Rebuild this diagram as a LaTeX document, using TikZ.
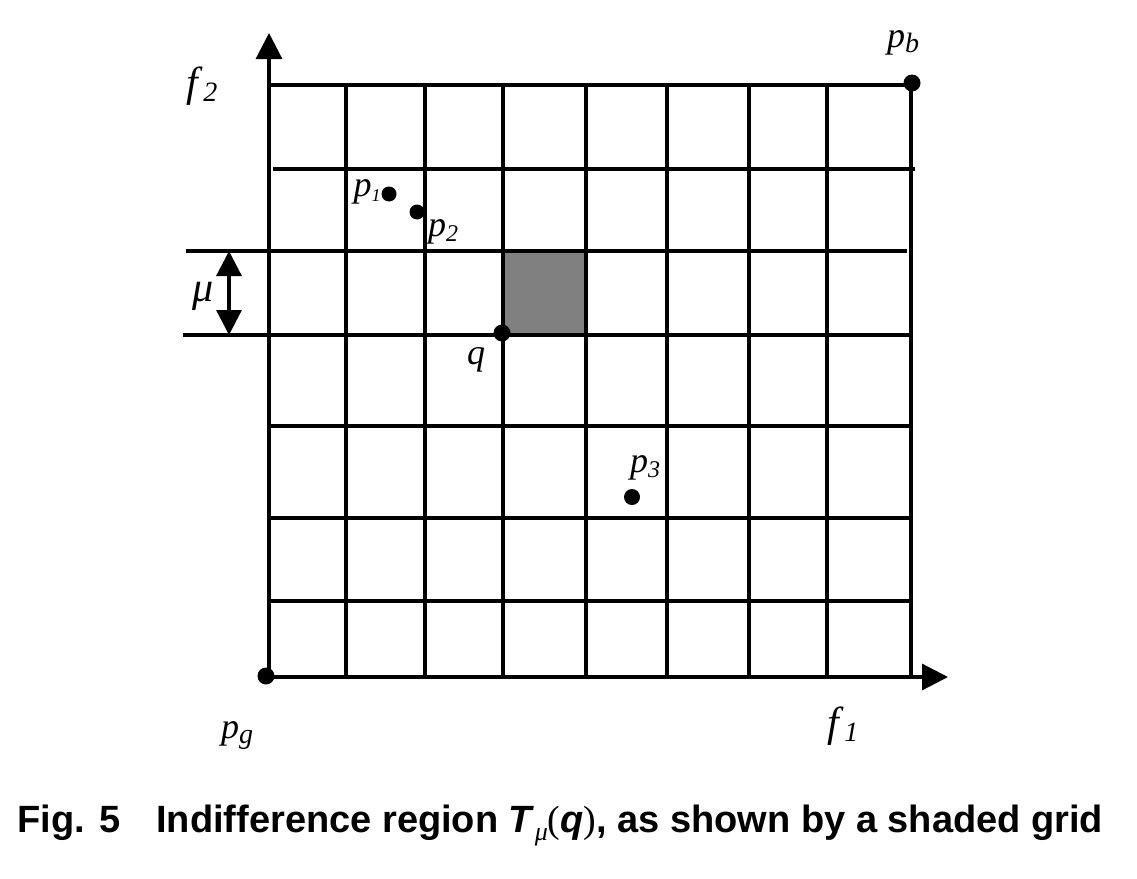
\documentclass[tikz,border=0pt]{standalone}
\usepackage{fontspec}
\setmainfont{Liberation Serif}
\setsansfont{Liberation Sans}
\usetikzlibrary{arrows.meta}
\newcommand{\lbl}[3][24]{\textit{#2}\raisebox{-5pt}{\fontsize{#1}{#1}\selectfont\textit{#3}}}
\definecolor{shadegray}{RGB}{128,128,128}
\begin{document}
\begin{tikzpicture}[x=1pt,y=-1pt,line width=3.2pt,
  gridline/.style={line width=3.1pt},
  axis/.style={line width=3.2pt,-{Triangle[length=26pt,width=26pt]}},
  dot/.style={circle,fill=black,inner sep=0pt,minimum size=#1},
  dot/.default=16pt,
  plabel/.style={inner sep=0pt,font=\fontsize{36}{36}\selectfont},
  flabel/.style={inner sep=0pt,font=\fontsize{42}{42}\selectfont},
  caption/.style={inner sep=0pt,anchor=base west,font=\sffamily\bfseries\fontsize{38}{38}\selectfont}]
\useasboundingbox (0,0) rectangle (1137,878);
% shaded cell
\fill[shadegray] (503,251) rectangle (586,335);
% grid
\foreach \x in {346,425,503,586,667,749,827}
  \draw[gridline] (\x,85) -- (\x,677);
\draw[gridline] (911,83) -- (911,677);
\draw[gridline] (269,85) -- (911,85);
\draw[gridline] (273,169) -- (915,169);
\draw[gridline] (186,251) -- (907,251);
\draw[gridline] (183,335) -- (911,335);
\foreach \y in {426,518,601}
  \draw[gridline] (269,\y) -- (911,\y);
% axes
\coordinate (O) at (269,677);
\coordinate (xstart) at (266,677);
\coordinate (ytip) at (269,33);
\coordinate (xtip) at (948,677);
\draw[axis] (O) -- (ytip);
\draw[axis] (xstart) -- (xtip);
% mu arrow
\coordinate (mutop) at (229,251);
\coordinate (mubot) at (229,335);
\draw[line width=3.2pt,{Triangle[length=25pt,width=25pt]}-{Triangle[length=25pt,width=25pt]}] (mutop) -- (mubot);
% dots
\node[dot=17pt] (pb) at (912,83) {};
\node[dot=17pt] (pg) at (266,676) {};
\node[dot=17pt] (q) at (502,333) {};
\node[dot=15pt] (p1) at (389,194) {};
\node[dot=15pt] (p2) at (417,212) {};
\node[dot=16pt] (p3) at (632,497) {};
% labels
\node[flabel] (lf2) at (202,86) {\lbl[28]{f}{2}};
\node[flabel] (lf1) at (843,726) {\lbl[28]{f}{1}};
\node[flabel] (lmu) at (203,296) {\textit{μ}};
\node[plabel] (lp1) at (367,192) {\lbl[18]{p}{1}};
\node[plabel] (lp2) at (443,232) {\lbl{p}{2}};
\node[plabel] (lp3) at (645,468) {\lbl{p}{3}};
\node[plabel] (lq) at (476,360) {\textit{q}};
\node[plabel] (lpb) at (903,43) {\lbl[28]{p}{b}};
\node[plabel] (lpg) at (237,735) {\lbl[28]{p}{g}};
% caption
\node[caption] (cap) at (16,832) {Fig. 5\hspace{36pt}Indifference region \textit{T}\raisebox{-8pt}{\fontsize{26}{26}\selectfont\rmfamily\mdseries\textit{μ}}{\rmfamily\mdseries(}\textit{q}{\rmfamily\mdseries)}, as shown by a shaded grid};
\end{tikzpicture}
\end{document}
